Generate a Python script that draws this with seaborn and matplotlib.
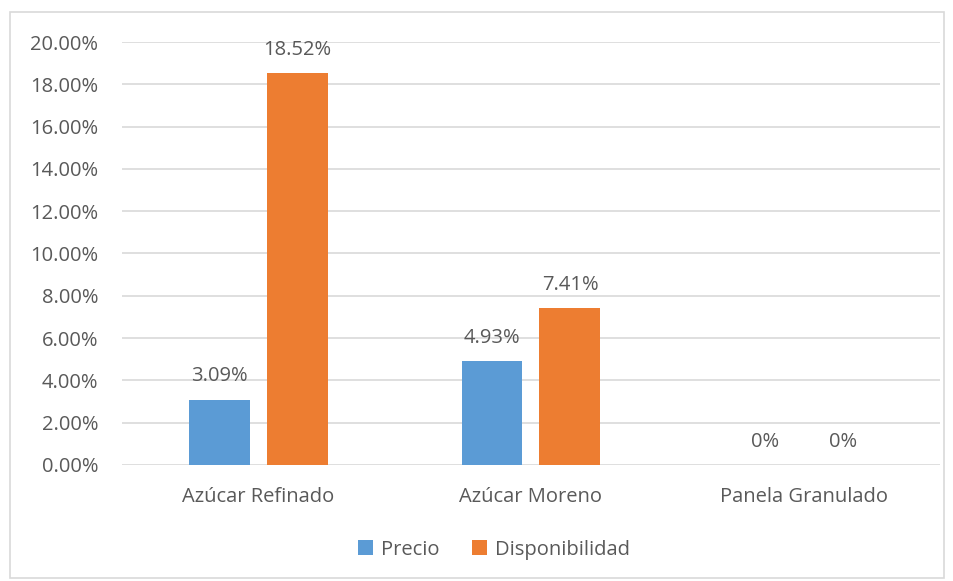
# import libraries
import seaborn as sns
import pandas as pd
import numpy as np
import matplotlib.pyplot as plt
from matplotlib.patches import Rectangle

# data
categorias = ["Azúcar Refinado", "Azúcar Moreno", "Panela Granulado"]
series = ["Precio", "Disponibilidad"]
precio = [3.09, 4.93, 0.0]
disponibilidad = [18.52, 7.41, 0.0]
yticks = [0, 2, 4, 6, 8, 10, 12, 14, 16, 18, 20]
colores = ["#5B9BD5", "#ED7D31"]

df = pd.DataFrame({
    "categoria": categorias * 2,
    "serie": [series[0]] * 3 + [series[1]] * 3,
    "valor": precio + disponibilidad,
})

sns.set_style("white")
plt.rcParams["font.family"] = ["Open Sans", "DejaVu Sans"]
gris = "#595959"
fs = 14.5

fig = plt.figure(figsize=(9.54, 5.81), dpi=100)
ax = fig.add_axes([0.1279, 0.1997, 0.8574, 0.7280])

sns.barplot(data=df, x="categoria", y="valor", hue="serie", palette=colores,
            saturation=1, width=0.572, gap=0.218, linewidth=0, ax=ax, legend=True)

ax.set_ylim(0, 20)
ax.set_yticks(yticks)
ax.set_yticklabels([f"{t:.2f}%" for t in yticks])
ax.set_xlim(-0.5, 2.5)
ax.grid(axis="y", color="#D9D9D9", linewidth=1.2)
ax.set_axisbelow(True)
for s in ax.spines.values():
    s.set_visible(False)
ax.tick_params(axis="y", length=0, labelsize=fs, colors=gris, pad=17)
ax.tick_params(axis="x", length=0, labelsize=fs, colors=gris, pad=16)
ax.set_xlabel("")
ax.set_ylabel("")

# data labels
for cont in ax.containers:
    labels = [f"{v:.2f}%" if v else "0%" for v in cont.datavalues]
    ax.bar_label(cont, labels=labels, padding=9.5, fontsize=fs, color=gris)

leg = ax.legend(loc="center", bbox_to_anchor=(0.455, -0.20), ncol=2, frameon=False,
                fontsize=fs, handlelength=0.75, handleheight=0.75, handletextpad=0.4,
                columnspacing=1.6, labelcolor=gris)

# chart border
fig.patches.append(Rectangle((10 / 954, 3 / 581), 934 / 954, 566 / 581,
                             transform=fig.transFigure, fill=False,
                             edgecolor="#D9D9D9", linewidth=1.2))

fig.savefig("out.png", dpi=100)
